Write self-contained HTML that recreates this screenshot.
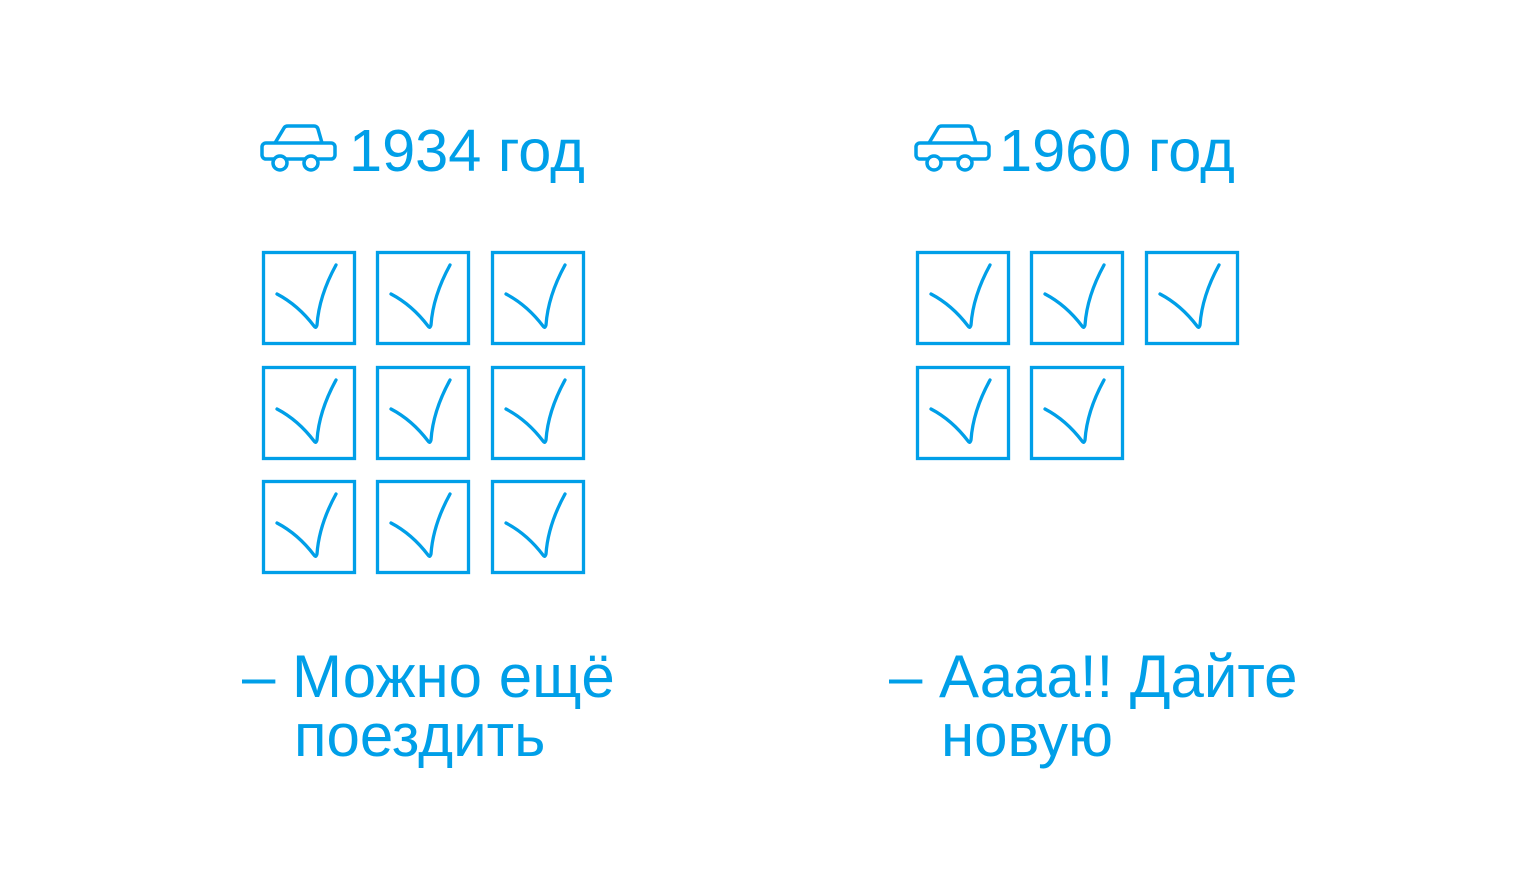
<!DOCTYPE html>
<html><head><meta charset="utf-8"><style>
html,body{margin:0;padding:0;background:#fff;}
svg{display:block}
text{font-family:"Liberation Sans",sans-serif;fill:#009fe8}
</style></head><body>
<svg width="1537" height="878" viewBox="0 0 1537 878">
<defs>
<g id="car" fill="none" stroke="#009fe8" stroke-width="3.5" stroke-linejoin="round">
<path d="M15,18 L24,3 Q25,1 28,1 L54,1 Q57,1 58,4 L62,18"/>
<rect x="2" y="18" width="73" height="16" rx="4"/>
<circle cx="20" cy="38" r="7" fill="#fff"/>
<circle cx="51" cy="38" r="7" fill="#fff"/>
</g>
<g id="box">
<rect x="1.5" y="1.5" width="91" height="91" fill="none" stroke="#009fe8" stroke-width="3.3"/>
<path d="M15,43 Q36,54 52,75 Q54,78 55,74 Q57,45 74,14" fill="none" stroke="#009fe8" stroke-width="3.3" stroke-linecap="round"/>
</g>
</defs>
<use href="#car" x="260" y="125"/>
<text x="349" y="171" font-size="59.5">1934 год</text>
<use href="#car" x="914" y="125"/>
<text x="999" y="171" font-size="59.5">1960 год</text>

<use href="#box" x="262" y="251"/><use href="#box" x="376" y="251"/><use href="#box" x="491" y="251"/>
<use href="#box" x="262" y="366"/><use href="#box" x="376" y="366"/><use href="#box" x="491" y="366"/>
<use href="#box" x="262" y="480"/><use href="#box" x="376" y="480"/><use href="#box" x="491" y="480"/>

<use href="#box" x="916" y="251"/><use href="#box" x="1030" y="251"/><use href="#box" x="1145" y="251"/>
<use href="#box" x="916" y="366"/><use href="#box" x="1030" y="366"/>

<text x="242" y="697" font-size="60">– Можно ещё</text>
<text x="294" y="756" font-size="60">поездить</text>
<text x="889" y="697" font-size="60">– Аааа!! Дайте</text>
<text x="941" y="756" font-size="60">новую</text>
</svg>
</body></html>
